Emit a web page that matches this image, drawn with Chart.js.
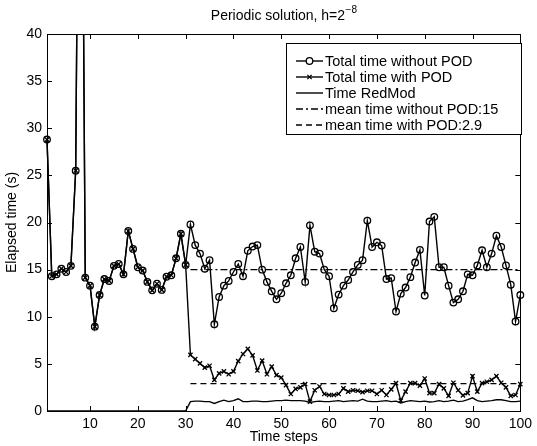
<!DOCTYPE html>
<html>
<head>
<meta charset="utf-8">
<title>Periodic solution</title>
<script src="https://cdn.jsdelivr.net/npm/chart.js@4.4.1/dist/chart.umd.min.js"></script>
<style>
  body { margin: 0; background: #fff; }
  .chart-wrapper { position: relative; width: 537px; height: 446px; }
</style>
</head>
<body>
<div class="chart-wrapper"><canvas id="myChart"></canvas></div>
<script>
// time steps 1..100
const steps = Array.from({ length: 100 }, (_, i) => i + 1);

// total time without POD (step 8 runs far off the top of the plot)
const withoutPOD = [
  28.8, 14.3, 14.5, 15.1, 14.75, 15.4, 25.5, 90, 14.15, 13.3,
  8.95, 12.3, 14.0, 13.8, 15.4, 15.6, 14.5, 19.1, 17.2, 15.25,
  14.9, 13.7, 12.8, 13.5, 12.85, 14.25, 14.4, 16.2, 18.8, 15.5,
  19.8, 17.6, 16.7, 15.1, 16.0, 9.2, 12.1, 13.3, 13.8, 14.75,
  15.6, 14.3, 17.0, 17.45, 17.6, 15.0, 13.7, 12.7, 11.85, 12.5,
  13.55, 14.4, 16.2, 17.4, 13.7, 19.7, 16.9, 16.7, 15.0, 14.3,
  10.9, 12.35, 13.3, 13.9, 14.75, 15.5, 16.0, 20.2, 17.4, 17.9,
  17.55, 14.0, 14.1, 10.55, 12.45, 13.1, 14.2, 15.75, 17.1, 12.25,
  20.1, 20.6, 15.25, 15.25, 13.3, 11.5, 11.85, 12.7, 14.5, 14.4,
  15.45, 17.05, 15.25, 16.7, 18.6, 17.4, 15.45, 13.4, 9.5, 12.3
];

// total time with POD, steps 31..100 (steps 1..30 are the same run as without POD)
const withPODTail = [
  5.95, 5.5, 5.05, 4.6, 4.8, 3.3, 4.0, 4.2, 3.9, 4.2,
  5.3, 6.05, 6.6, 5.9, 4.3, 5.35, 3.9, 4.7, 3.8, 3.55,
  2.75, 1.8, 2.35, 2.5, 2.85, 1.0, 2.2, 2.6, 1.8, 1.7,
  1.7, 1.8, 2.4, 2.05, 2.2, 2.15, 2.0, 2.15, 2.15, 1.8,
  2.2, 1.7, 2.3, 2.95, 1.1, 2.05, 2.95, 2.95, 2.7, 3.45,
  1.9, 1.9, 2.85, 2.4, 1.6, 3.0, 2.2, 1.65, 1.9, 3.7,
  2.05, 2.95, 3.1, 3.3, 3.7, 3.0, 2.5, 1.6, 1.7, 2.85
];
const withPOD = withoutPOD.slice(0, 30).concat(withPODTail);

// reduced model time: zero for steps 1..30
const redModHead = [
  0, 0, 0, 0, 0, 0, 0, 0, 0, 0,
  0, 0, 0, 0, 0, 0, 0, 0, 0, 0,
  0, 0, 0, 0, 0, 0, 0, 0, 0, 0
];
const redModTail = [
  1.0, 1.05, 1.05, 1.0, 1.0, 0.8, 1.0, 1.15, 1.0, 1.1,
  1.3, 1.0, 1.0, 1.05, 1.05, 1.0, 1.0, 1.05, 1.1, 1.1,
  1.15, 1.1, 1.1, 1.1, 1.05, 0.9, 1.0, 1.05, 1.0, 1.0,
  1.05, 1.1, 1.0, 1.05, 1.1, 1.05, 1.25, 1.05, 1.0, 1.0,
  1.05, 1.1, 1.0, 1.05, 0.85, 1.0, 1.1, 1.05, 1.0, 1.05,
  0.95, 1.0, 1.1, 1.0, 1.05, 1.15, 1.0, 1.05, 1.2, 1.4,
  1.1, 1.0, 1.05, 1.1, 1.2, 1.2, 1.1, 1.0, 1.0, 1.05
];
const redMod = redModHead.concat(redModTail);

const meanSteps = [31, 100];
const meanWithout = 15;
const meanWith = 2.9;

const xTicks = [10, 20, 30, 40, 50, 60, 70, 80, 90, 100];
const yTicks = [0, 5, 10, 15, 20, 25, 30, 35, 40];

const FONT = '"Liberation Sans", Arial, Helvetica, sans-serif';
const LW = 1.4;

function pts(xs, ys) {
  return xs.map((x, i) => ({ x: x, y: ys[i] }));
}

// box, inward ticks, legend, title and axis labels in matlab style
const matlabLook = {
  id: 'matlabLook',
  afterDraw(chart) {
    const c = chart.ctx;
    const a = chart.chartArea;
    const sx = chart.scales.x, sy = chart.scales.y;
    c.save();
    c.strokeStyle = '#000';
    c.lineWidth = 1;
    c.setLineDash([]);
    c.strokeRect(Math.round(a.left) + 0.5, Math.round(a.top) + 0.5,
      Math.round(a.right - a.left), Math.round(a.bottom - a.top));

    const tl = 5;
    c.beginPath();
    xTicks.forEach(v => {
      const px = Math.round(sx.getPixelForValue(v)) + 0.5;
      c.moveTo(px, a.bottom); c.lineTo(px, a.bottom - tl);
      c.moveTo(px, a.top); c.lineTo(px, a.top + tl);
    });
    yTicks.forEach(v => {
      const py = Math.round(sy.getPixelForValue(v)) + 0.5;
      c.moveTo(a.left, py); c.lineTo(a.left + tl, py);
      c.moveTo(a.right, py); c.lineTo(a.right - tl, py);
    });
    c.stroke();

    // title with superscript
    c.fillStyle = '#000';
    c.textBaseline = 'alphabetic';
    const t1 = 'Periodic solution, h=2';
    const t2 = '\u22128';
    c.font = '14px ' + FONT;
    const w1 = c.measureText(t1).width;
    c.font = '10px ' + FONT;
    const w2 = c.measureText(t2).width;
    const cx = (a.left + a.right) / 2;
    let tx = cx - (w1 + w2) / 2;
    c.font = '14px ' + FONT;
    c.textAlign = 'left';
    c.fillText(t1, tx, 20);
    c.font = '10px ' + FONT;
    c.fillText(t2, tx + w1 + 0.5, 13);

    // axis labels
    c.font = '14px ' + FONT;
    c.textAlign = 'center';
    c.textBaseline = 'middle';
    c.fillText('Time steps', cx, 437);
    c.save();
    c.translate(12, (a.top + a.bottom) / 2);
    c.rotate(-Math.PI / 2);
    c.fillText('Elapsed time (s)', 0, 0);
    c.restore();

    // legend box
    const lb = { x: 286, y: 43, w: 235, h: 91 };
    c.fillStyle = '#fff';
    c.fillRect(lb.x, lb.y, lb.w, lb.h);
    c.strokeRect(lb.x + 0.5, lb.y + 0.5, lb.w, lb.h);
    c.textAlign = 'left';
    c.font = '14.5px ' + FONT;
    chart.data.datasets.forEach((ds, i) => {
      const ry = lb.y + 18 + i * 16;
      const x0 = 296, x1 = 323;
      c.beginPath();
      c.setLineDash(ds.borderDash || []);
      c.lineWidth = ds.borderWidth;
      c.moveTo(x0, ry); c.lineTo(x1, ry);
      c.stroke();
      c.setLineDash([]);
      if (ds.pointRadius > 0) {
        c.fillStyle = '#fff';
        c.lineWidth = ds.pointBorderWidth;
        Chart.helpers.drawPoint(c, {
          pointStyle: ds.pointStyle, radius: ds.pointRadius,
          borderWidth: ds.pointBorderWidth, rotation: 0
        }, (x0 + x1) / 2, ry);
      }
      c.fillStyle = '#000';
      c.fillText(ds.label, 325, ry + 1);
    });
    c.restore();
  }
};

const ctx = document.getElementById('myChart');
const clipBox = { left: 6, top: 0, right: 6, bottom: 6 };

const myChart = new Chart(ctx, {
  type: 'line',
  data: {
    datasets: [
      {
        label: 'Total time without POD',
        data: pts(steps, withoutPOD),
        borderColor: '#000', borderWidth: LW, clip: clipBox,
        pointStyle: 'circle', pointRadius: 3.3, pointBorderWidth: 1.3,
        pointBorderColor: '#000', pointBackgroundColor: 'rgba(0,0,0,0)'
      },
      {
        label: 'Total time with POD',
        data: pts(steps, withPOD),
        borderColor: '#000', borderWidth: LW, clip: clipBox,
        pointStyle: 'crossRot', pointRadius: 3, pointBorderWidth: 1.3,
        pointBorderColor: '#000', pointBackgroundColor: 'rgba(0,0,0,0)'
      },
      {
        label: 'Time RedMod',
        data: pts(steps, redMod),
        borderColor: '#000', borderWidth: LW, pointRadius: 0
      },
      {
        label: 'mean time without POD:15',
        data: pts(meanSteps, [meanWithout, meanWithout]),
        borderColor: '#000', borderWidth: LW, pointRadius: 0,
        borderDash: [7, 3, 2, 3]
      },
      {
        label: 'mean time with POD:2.9',
        data: pts(meanSteps, [meanWith, meanWith]),
        borderColor: '#000', borderWidth: LW, pointRadius: 0,
        borderDash: [6, 4]
      }
    ]
  },
  options: {
    responsive: true,
    maintainAspectRatio: false,
    animation: false,
    events: [],
    layout: { padding: { top: 34, right: 15, left: 0, bottom: 0 } },
    plugins: { legend: { display: false }, title: { display: false }, tooltip: { enabled: false } },
    elements: { line: { tension: 0 } },
    scales: {
      x: {
        type: 'linear', min: 1, max: 100,
        afterBuildTicks: s => { s.ticks = xTicks.map(v => ({ value: v })); },
        afterFit: s => { s.height = 35; },
        grid: { display: false, drawTicks: false },
        border: { display: false },
        ticks: { color: '#000', font: { family: FONT, size: 14 }, padding: 5, maxRotation: 0, autoSkip: false }
      },
      y: {
        min: 0, max: 40,
        afterBuildTicks: s => { s.ticks = yTicks.map(v => ({ value: v })); },
        afterFit: s => { s.width = 47; },
        grid: { display: false, drawTicks: false },
        border: { display: false },
        ticks: { color: '#000', font: { family: FONT, size: 14 }, padding: 5 }
      }
    }
  },
  plugins: [matlabLook]
});
</script>
</body>
</html>
